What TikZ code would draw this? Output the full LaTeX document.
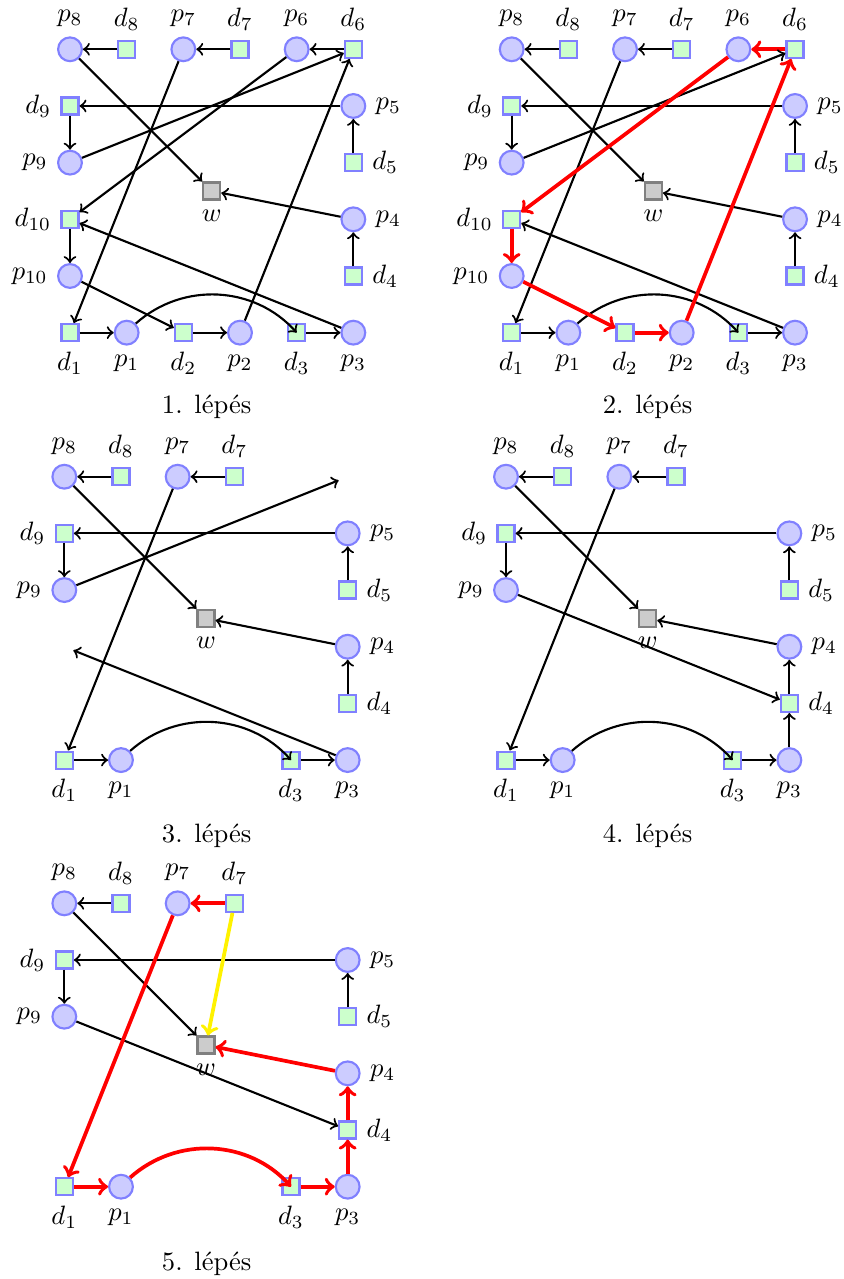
\documentclass[tikz,border=0pt]{standalone}
\tikzset{
 pn/.style={circle,draw=blue!50,fill=blue!20,thick,minimum size=0.315cm,inner sep=0pt},
 dn/.style={rectangle,draw=blue!50,fill=green!20,thick,minimum size=0.225cm,inner sep=0pt},
 wn/.style={rectangle,draw=gray,fill=gray!40,thick,minimum size=0.225cm,inner sep=0pt},
 ghost/.style={rectangle,minimum size=0.225cm,inner sep=0pt},
 blk/.style={->,thick},
 redarr/.style={->,red,line width=1.4pt},
 yelarr/.style={->,yellow,line width=1.4pt},
 capnode/.style={anchor=base,inner sep=0pt},
}
\newcommand\mycommonnodes{%
 \node[pn,label=above:$p_8$] (p8) at (0,0) {};
 \node[dn,label=above:$d_8$] (d8) at (1,0) {};
 \node[pn,label=above:$p_7$] (p7) at (2,0) {};
 \node[dn,label=above:$d_7$] (d7) at (3,0) {};
 \node[dn,label=left:$d_9$] (d9) at (0,-1) {};
 \node[pn,label=right:$p_5$] (p5) at (5,-1) {};
 \node[pn,label=left:$p_9$] (p9) at (0,-2) {};
 \node[dn,label=right:$d_5$] (d5) at (5,-2) {};
 \node[wn,label=below:$w$] (w) at (2.5,-2.5) {};
 \node[pn,label=right:$p_4$] (p4) at (5,-3) {};
 \node[dn,label=right:$d_4$] (d4) at (5,-4) {};
 \node[dn,label=below:$d_1$] (d1) at (0,-5) {};
 \node[pn,label=below:$p_1$] (p1) at (1,-5) {};
 \node[dn,label=below:$d_3$] (d3) at (4,-5) {};
 \node[pn,label=below:$p_3$] (p3) at (5,-5) {};
}
\newcommand\myextranodes{%
 \node[pn,label=above:$p_6$] (p6) at (4,0) {};
 \node[dn,label=above:$d_6$] (d6) at (5,0) {};
 \node[dn,label=left:$d_{10}$] (d10) at (0,-3) {};
 \node[pn,label=left:$p_{10}$] (p10) at (0,-4) {};
 \node[dn,label=below:$d_2$] (d2) at (2,-5) {};
 \node[pn,label=below:$p_2$] (p2) at (3,-5) {};
}
\begin{document}
\begin{tikzpicture}[x=0.75cm,y=0.75cm]
\useasboundingbox (0,0) rectangle (14.893,-22.569);
% ---------- panel 1
\begin{scope}[shift={(1.235,-0.870)},name prefix=A-]
 \mycommonnodes
 \myextranodes
 \draw[blk] (d8) -- (p8);
 \draw[blk] (d7) -- (p7);
 \draw[blk] (d6) -- (p6);
 \draw[blk] (p8) -- (w);
 \draw[blk] (p7) -- (d1);
 \draw[blk] (p6) -- (d10);
 \draw[blk] (p9) -- (d6);
 \draw[blk] (p5) -- (d9);
 \draw[blk] (d9) -- (p9);
 \draw[blk] (d5) -- (p5);
 \draw[blk] (p4) -- (w);
 \draw[blk] (d4) -- (p4);
 \draw[blk] (d10) -- (p10);
 \draw[blk] (p10) -- (d2);
 \draw[blk] (p3) -- (d10);
 \draw[blk] (p2) -- (d6);
 \draw[blk] (d1) -- (p1);
 \draw[blk] (p1) to[bend left=45] (d3);
 \draw[blk] (d2) -- (p2);
 \draw[blk] (d3) -- (p3);
\end{scope}
% ---------- panel 2
\begin{scope}[shift={(9.029,-0.870)},name prefix=B-]
 \mycommonnodes
 \myextranodes
 \draw[blk] (d8) -- (p8);
 \draw[blk] (d7) -- (p7);
 \draw[redarr] (d6) -- (p6);
 \draw[blk] (p8) -- (w);
 \draw[blk] (p7) -- (d1);
 \draw[blk] (p9) -- (d6);
 \draw[blk] (p5) -- (d9);
 \draw[blk] (d9) -- (p9);
 \draw[blk] (d5) -- (p5);
 \draw[blk] (p4) -- (w);
 \draw[blk] (d4) -- (p4);
 \draw[blk] (p3) -- (d10);
 \draw[blk] (d1) -- (p1);
 \draw[blk] (p1) to[bend left=45] (d3);
 \draw[blk] (d3) -- (p3);
 \draw[redarr] (p6) -- (d10);
 \draw[redarr] (d10) -- (p10);
 \draw[redarr] (p10) -- (d2);
 \draw[redarr] (d2) -- (p2);
 \draw[redarr] (p2) -- (d6);
\end{scope}
% ---------- panel 3
\begin{scope}[shift={(1.135,-8.412)},name prefix=C-]
 \mycommonnodes
 \node[ghost] (d6) at (5,0) {};
 \node[ghost] (d10) at (0,-3) {};
 \draw[blk] (d8) -- (p8);
 \draw[blk] (d7) -- (p7);
 \draw[blk] (p8) -- (w);
 \draw[blk] (p7) -- (d1);
 \draw[blk] (p9) -- (d6);
 \draw[blk] (p5) -- (d9);
 \draw[blk] (d9) -- (p9);
 \draw[blk] (d5) -- (p5);
 \draw[blk] (p4) -- (w);
 \draw[blk] (d4) -- (p4);
 \draw[blk] (p3) -- (d10);
 \draw[blk] (d1) -- (p1);
 \draw[blk] (p1) to[bend left=45] (d3);
 \draw[blk] (d3) -- (p3);
\end{scope}
% ---------- panel 4
\begin{scope}[shift={(8.929,-8.412)},name prefix=D-]
 \mycommonnodes
 \draw[blk] (d8) -- (p8);
 \draw[blk] (d7) -- (p7);
 \draw[blk] (p8) -- (w);
 \draw[blk] (p7) -- (d1);
 \draw[blk] (p5) -- (d9);
 \draw[blk] (d9) -- (p9);
 \draw[blk] (d5) -- (p5);
 \draw[blk] (p4) -- (w);
 \draw[blk] (p9) -- (d4);
 \draw[blk] (p3) -- (d4);
 \draw[blk] (d4) -- (p4);
 \draw[blk] (d1) -- (p1);
 \draw[blk] (p1) to[bend left=45] (d3);
 \draw[blk] (d3) -- (p3);
\end{scope}
% ---------- panel 5
\begin{scope}[shift={(1.135,-15.940)},name prefix=E-]
 \mycommonnodes
 \draw[blk] (d8) -- (p8);
 \draw[blk] (p8) -- (w);
 \draw[blk] (p5) -- (d9);
 \draw[blk] (d9) -- (p9);
 \draw[blk] (d5) -- (p5);
 \draw[blk] (p9) -- (d4);
 \draw[yelarr] (d7) -- (w);
 \draw[redarr] (d7) -- (p7);
 \draw[redarr] (p7) -- (d1);
 \draw[redarr] (d1) -- (p1);
 \draw[redarr] (p1) to[bend left=45] (d3);
 \draw[redarr] (d3) -- (p3);
 \draw[redarr] (p3) -- (d4);
 \draw[redarr] (d4) -- (p4);
 \draw[redarr] (p4) -- (w);
\end{scope}
% ---------- captions
\node[capnode] (c1) at (3.647,-7.305) {1. lépés};
\node[capnode] (c2) at (11.426,-7.305) {2. lépés};
\node[capnode] (c3) at (3.647,-14.867) {3. lépés};
\node[capnode] (c4) at (11.426,-14.867) {4. lépés};
\node[capnode] (c5) at (3.647,-22.419) {5. lépés};
\end{tikzpicture}
\end{document}
